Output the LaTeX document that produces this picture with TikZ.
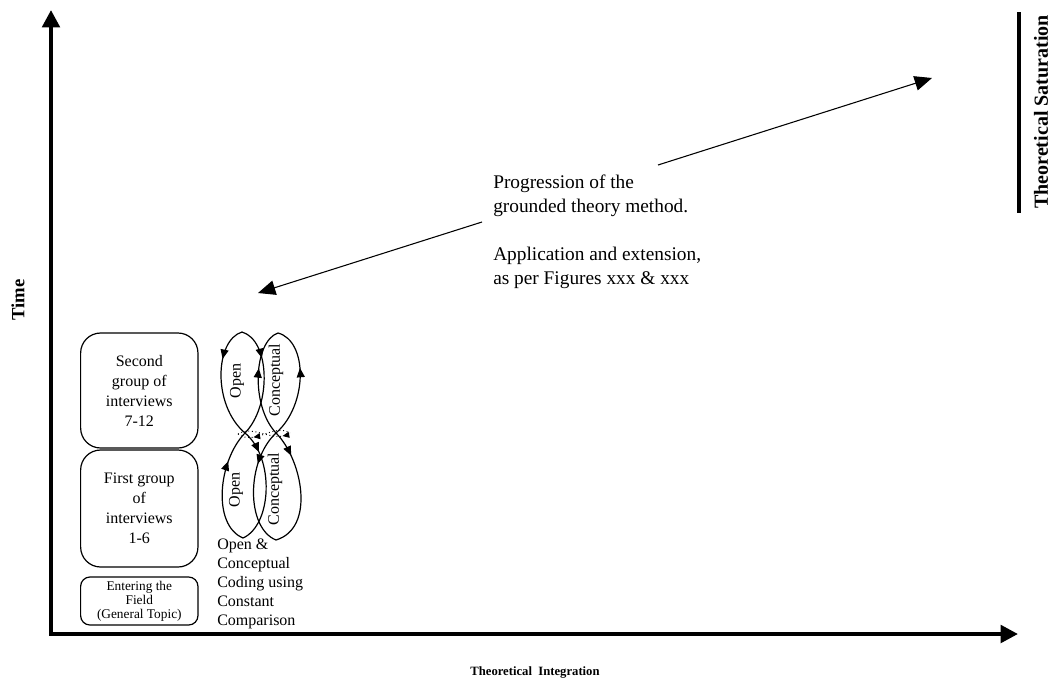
\documentclass[tikz,border=0pt]{standalone}
\usepackage{fontspec}
\setmainfont{Liberation Serif}
\usetikzlibrary{arrows.meta,decorations.markings}

\begin{document}
\begin{tikzpicture}[x=0.75pt,y=-0.75pt,
  axis/.style={line width=3pt,line cap=rect,-{Triangle[length=13pt,width=13pt]}},
  pointer/.style={line width=0.8pt,-{Triangle[length=13pt,width=11pt]}},
  stagebox/.style={draw,line width=0.9pt,rounded corners=15pt,minimum width=88pt,inner sep=2pt,align=center,
    font=\fontsize{12}{15}\selectfont},
  loopline/.style={line width=0.9pt},
  dotline/.style={dotted,line width=0.7pt},
  fwd/.style={postaction={decorate,decoration={markings,
      mark=at position #1 with {\arrow{Triangle[length=7pt,width=6pt]}}}}},
  bwd/.style={postaction={decorate,decoration={markings,
      mark=at position #1 with {\arrowreversed{Triangle[length=7pt,width=6pt]}}}}},
  sfwd/.style={postaction={decorate,decoration={markings,
      mark=at position #1 with {\arrow{Triangle[length=5pt,width=4.5pt]}}}}},
  sbwd/.style={postaction={decorate,decoration={markings,
      mark=at position #1 with {\arrowreversed{Triangle[length=5pt,width=4.5pt]}}}}},
  looplabel/.style={rotate=90,inner sep=0pt,font=\fontsize{12}{14}\selectfont},
  axislabel/.style={inner sep=0pt,font=\bfseries}
]
\useasboundingbox (0,0) rectangle (1053,683);

% axes
\coordinate (O) at (51,634);
\coordinate (ytop) at (51,10);
\coordinate (xend) at (1018,634);
\draw[axis] (O) -- (ytop);
\draw[axis] (O) -- (xend);

% saturation bar
\coordinate (satTop) at (1019,12);
\coordinate (satBot) at (1019,213);
\draw[line width=2.3pt] (satTop) -- (satBot);

% axis labels
\node[axislabel,font=\bfseries\fontsize{9.5}{11}\selectfont] (xlab) at (535,672) {Theoretical\ \ Integration};
\node[axislabel,rotate=90,font=\bfseries\fontsize{14}{16}\selectfont] (ylab) at (18,300) {Time};
\node[axislabel,rotate=90,font=\bfseries\fontsize{15}{17}\selectfont] (satlab) at (1041,112) {Theoretical Saturation};

% interview stages
\node[stagebox,minimum height=86.25pt] (second) at (139.3,390.5) {Second\\group of\\interviews\\7-12};
\node[stagebox,minimum height=87.75pt] (first) at (139.3,508.5) {First group\\of\\interviews\\1-6};
\node[stagebox,minimum height=36pt,rounded corners=7pt,font=\fontsize{10}{10.5}\selectfont] (enter) at (139.3,601) {Entering the\\Field\\(General Topic)};

% coding loops: open chain
\coordinate (TO) at (242,332);
\coordinate (WO) at (245,433);
\coordinate (BO) at (243,538);
\draw[loopline,fwd=0.3] (TO) .. controls (215,340) and (212,405) .. (WO);
\draw[loopline,fwd=0.3] (TO) .. controls (270,340) and (272,405) .. (WO);
\draw[loopline,fwd=0.2] (WO) .. controls (275,458) and (272,525) .. (BO);
\draw[loopline,bwd=0.28] (WO) .. controls (218,461) and (212,525) .. (BO);

% coding loops: conceptual chain
\coordinate (TC) at (278,333);
\coordinate (WC) at (276,433);
\coordinate (BC) at (276,540);
\draw[loopline,bwd=0.38] (TC) .. controls (254,341) and (250,405) .. (WC);
\draw[loopline,bwd=0.38] (TC) .. controls (308,341) and (308,405) .. (WC);
\draw[loopline,fwd=0.22] (WC) .. controls (302,459) and (316,528) .. (BC);
\draw[loopline,fwd=0.3] (WC) .. controls (246,461) and (246,528) .. (BC);

% dotted exchange between the two chains
\coordinate (DL) at (238,434);
\coordinate (DR) at (290,433);
\draw[dotline,sbwd=0.3] (DL) .. controls (255,446) and (273,423) .. (DR);
\draw[dotline,sbwd=0.85] (DL) .. controls (255,424) and (273,444) .. (DR);

% loop labels
\node[looplabel] (open1) at (237,381) {Open};
\node[looplabel] (conc1) at (276,380) {Conceptual};
\node[looplabel] (open2) at (236,490) {Open};
\node[looplabel] (conc2) at (275,489) {Conceptual};

% coding caption
\node[anchor=north west,align=left,inner sep=0pt,font=\fontsize{12}{14.25}\selectfont] (coding) at (217,539)
  {Open \&\\Conceptual\\Coding using\\Constant\\Comparison};

% progression note and its arrows
\node[anchor=north west,align=left,inner sep=0pt,font=\fontsize{14.5}{18}\selectfont] (prog) at (493,175)
  {Progression of the\\grounded theory method.\\[18pt]Application and extension,\\as per Figures xxx \& xxx};
\coordinate (pl) at (482,222);
\coordinate (pr) at (658,165);
\coordinate (tipL) at (258,293);
\coordinate (tipR) at (932,78);
\draw[pointer] (pl) -- (tipL);
\draw[pointer] (pr) -- (tipR);
\end{tikzpicture}
\end{document}
